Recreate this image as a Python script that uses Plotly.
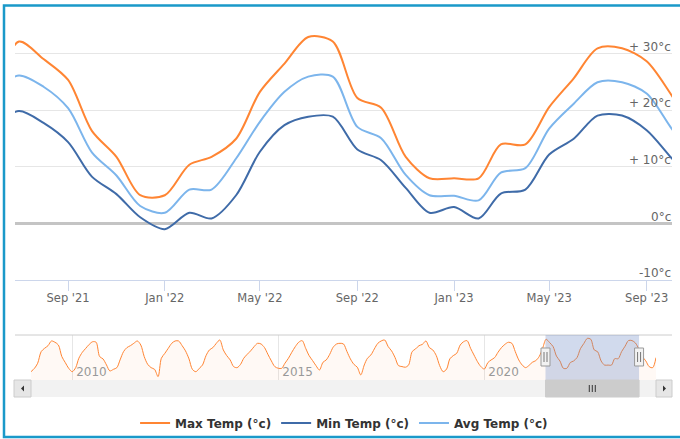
import pandas as pd
import plotly.graph_objects as go

W, H = 680, 439


def fx(px):
    return px / W


def fy(py):
    return 1 - py / H


# ---------------- data (monthly, 1st of month) ----------------
max_start = "2009-01-01"
max_temp = [
    # 2009
    1.8, 5.0, 9.7, 20.6, 23.7, 26.2, 30.6, 29.4, 26.8, 16.0, 10.3, 5.0,
    # 2010
    1.8, 5.6, 14.4, 20.0, 23.7, 27.4, 29.9, 29.4, 16.0, 13.8, 8.1, 2.5,
    # 2011
    4.0, 5.6, 12.8, 20.6, 24.4, 26.2, 28.4, 30.6, 26.8, 16.0, 8.7, 5.6,
    # 2012
    4.0, -2.8, 14.4, 19.0, 23.7, 28.4, 30.6, 30.6, 26.2, 21.3, 13.8, 4.0,
    # 2013
    1.8, 5.0, 8.1, 16.9, 22.2, 24.4, 28.4, 31.5, 22.2, 16.9, 12.8, 6.6,
    # 2014
    5.6, 8.7, 14.4, 18.1, 21.3, 25.3, 28.4, 27.8, 24.4, 18.1, 11.9, 6.6,
    # 2015
    5.0, 5.0, 9.7, 14.4, 20.0, 25.3, 29.4, 30.9, 23.7, 16.9, 12.2, 7.5,
    # 2016
    3.4, 10.6, 12.8, 18.1, 24.7, 27.8, 28.4, 27.8, 20.6, 13.8, 8.7, 6.0,
    # 2017
    -1.2, 8.1, 14.4, 17.5, 23.1, 28.4, 30.6, 31.5, 25.3, 21.3, 15.0, 7.5,
    # 2018
    6.6, 6.0, 8.1, 20.6, 23.1, 26.2, 27.4, 30.6, 24.4, 22.2, 16.9, 7.5,
    # 2019
    1.8, 4.3, 13.8, 16.9, 19.0, 26.8, 29.9, 30.9, 23.7, 17.5, 11.2, 6.6,
    # 2020
    4.3, 10.3, 12.8, 15.0, 20.0, 24.4, 27.4, 29.4, 28.4, 20.6, 12.8, 8.1,
    # 2021
    5.6, 7.8, 10.6, 12.2, 16.0, 24.0, 32.2, 29.1, 25.4, 16.4, 11.8, 5.0,
    # 2022
    5.0, 10.4, 11.8, 15.0, 23.3, 28.3, 33.0, 32.2, 22.2, 20.5, 11.8, 8.0,
    # 2023
    8.0, 8.0, 14.0, 14.0, 20.6, 25.7, 31.0, 31.0, 28.7, 23.0, 16.0, 12.0,
    # 2024
    6.5, 5.6, 15.0,
]

main_start = "2021-06-01"
min_temp = [
    17.5, 19.9, 17.8, 14.4, 8.3, 5.2, 1.1,
    -1.0, 1.9, 0.9, 5.0, 12.7, 17.4, 18.9, 18.9, 13.1, 11.2, 6.3, 1.9,
    2.9, 0.9, 5.3, 6.0, 12.2, 15.0, 19.1, 19.1, 16.5, 11.8, 7.0,
]
avg_temp = [
    23.5, 26.2, 24.2, 20.4, 12.6, 8.5, 3.1,
    1.9, 6.0, 6.0, 11.5, 18.0, 23.3, 26.0, 26.0, 17.1, 15.1, 8.6, 5.0,
    4.9, 4.1, 9.0, 9.8, 16.8, 21.2, 25.0, 25.0, 23.0, 17.1, 11.0,
]

y_ticks = [-10, 0, 10, 20, 30]
y_tick_labels = ["-10°c", "0°c", "+ 10°c", "+ 20°c", "+ 30°c"]

view_start, view_end = "2021-06-26", "2023-10-03"
nav_years = [2010, 2015, 2020]

series_names = ["Max Temp (°c)", "Min Temp (°c)", "Avg Temp (°c)"]
series_colors = ["#ff8533", "#3f6ba8", "#7cb5ec"]

months_all = pd.date_range(max_start, periods=len(max_temp), freq="MS")
months_main = pd.date_range(main_start, periods=len(min_temp), freq="MS")

FONT = "DejaVu Sans"
SMOOTH = 0.85

fig = go.Figure()

# ---------------- main chart ----------------
for name, xs, ys, col in [
    (series_names[0], months_all, max_temp, series_colors[0]),
    (series_names[1], months_main, min_temp, series_colors[1]),
    (series_names[2], months_main, avg_temp, series_colors[2]),
]:
    fig.add_trace(go.Scatter(
        x=xs, y=ys, name=name, mode="lines",
        line=dict(color=col, width=2, shape="spline", smoothing=SMOOTH),
        xaxis="x", yaxis="y", hoverinfo="skip",
    ))

# ---------------- navigator ----------------
nav_ymin, nav_ymax = -6.0, 36.2
fig.add_trace(go.Scatter(
    x=months_all, y=[nav_ymin] * len(months_all), mode="lines",
    line=dict(width=0, color="rgba(0,0,0,0)"), showlegend=False,
    xaxis="x2", yaxis="y2", hoverinfo="skip",
))
fig.add_trace(go.Scatter(
    x=months_all, y=max_temp, mode="lines", fill="tonexty",
    fillcolor="rgba(255,133,51,0.05)",
    line=dict(color=series_colors[0], width=1, shape="spline", smoothing=SMOOTH),
    showlegend=False, xaxis="x2", yaxis="y2", hoverinfo="skip",
))

# ---------------- annotations (y labels) ----------------
annotations = []
for v, t in zip(y_ticks, y_tick_labels):
    annotations.append(dict(
        x=fx(673), xref="paper", y=v, yref="y", text=t, showarrow=False,
        xanchor="right", yanchor="middle", yshift=7,
        font=dict(family=FONT, size=12, color="#666666"),
    ))

# ---------------- shapes ----------------
mid_view = pd.Timestamp(view_start) + (pd.Timestamp(view_end) - pd.Timestamp(view_start)) / 2
shapes = []
# navigator top outline
shapes.append(dict(type="line", xref="paper", yref="paper",
                   x0=fx(15), x1=fx(672), y0=fy(335), y1=fy(335),
                   line=dict(color="#cccccc", width=1)))
# navigator mask
shapes.append(dict(type="rect", xref="x2", yref="paper",
                   x0=view_start, x1=view_end, y0=fy(380), y1=fy(335),
                   fillcolor="rgba(102,133,194,0.3)", line=dict(width=0), layer="above"))
# scrollbar track
shapes.append(dict(type="rect", xref="paper", yref="paper",
                   x0=fx(31), x1=fx(656), y0=fy(397), y1=fy(380),
                   fillcolor="#f2f2f2", line=dict(width=0)))
# scrollbar buttons
for a, b in [(14, 31), (656, 672)]:
    shapes.append(dict(type="rect", xref="paper", yref="paper",
                       x0=fx(a), x1=fx(b), y0=fy(397), y1=fy(380),
                       fillcolor="#e6e6e6", line=dict(color="#cccccc", width=1)))
# arrows
shapes.append(dict(type="path", xref="paper", yref="paper",
                   path=f"M{fx(21)},{fy(388.5)} L{fx(24)},{fy(385.5)} L{fx(24)},{fy(391.5)} Z",
                   fillcolor="#333333", line=dict(width=0)))
shapes.append(dict(type="path", xref="paper", yref="paper",
                   path=f"M{fx(666)},{fy(388.5)} L{fx(663)},{fy(385.5)} L{fx(663)},{fy(391.5)} Z",
                   fillcolor="#333333", line=dict(width=0)))
# scrollbar thumb
shapes.append(dict(type="rect", xref="x2", yref="paper",
                   x0=view_start, x1=view_end, y0=fy(397), y1=fy(380),
                   fillcolor="#cccccc", line=dict(color="#cccccc", width=1)))
for off in (-3, 0, 3):
    shapes.append(dict(type="line", xref="x2", yref="paper", xsizemode="pixel",
                       xanchor=mid_view, x0=off, x1=off, y0=fy(392), y1=fy(385),
                       line=dict(color="#333333", width=1)))
# handles
for anchor in (view_start, view_end):
    shapes.append(dict(type="rect", xref="x2", yref="paper", xsizemode="pixel",
                       xanchor=anchor, x0=-4.5, x1=4.5, y0=fy(366), y1=fy(348),
                       fillcolor="#f2f2f2", line=dict(color="#999999", width=1), layer="above"))
    for off in (-1.5, 1.5):
        shapes.append(dict(type="line", xref="x2", yref="paper", xsizemode="pixel",
                           xanchor=anchor, x0=off, x1=off, y0=fy(362), y1=fy(352),
                           line=dict(color="#777777", width=1), layer="above"))
# chart border
shapes.append(dict(type="rect", xref="paper", yref="paper",
                   x0=fx(4), x1=fx(700), y0=fy(437), y1=fy(5.5),
                   line=dict(color="#1a99c9", width=2.5), fillcolor="rgba(0,0,0,0)",
                   layer="above"))

fig.update_layout(
    width=W, height=H, autosize=False,
    margin=dict(l=0, r=0, t=0, b=0),
    paper_bgcolor="white", plot_bgcolor="white",
    font=dict(family=FONT, color="#666666"),
    xaxis=dict(
        domain=[fx(15), fx(672)], anchor="y", type="date",
        range=[view_start, view_end],
        tick0="2021-09-01", dtick="M4", tickformat="%b '%y",
        ticks="outside", ticklen=10, tickcolor="#ccd6eb", tickwidth=1,
        showline=True, linecolor="#ccd6eb", linewidth=1,
        showgrid=False, zeroline=False, ticklabelstandoff=-3,
        tickfont=dict(family=FONT, size=11.5, color="#666666"),
    ),
    yaxis=dict(
        domain=[fy(280), fy(25)], anchor="x",
        range=[-10, 35.13], tickvals=y_ticks, showticklabels=False,
        showgrid=True, gridcolor="#e6e6e6", gridwidth=1,
        zeroline=True, zerolinecolor="#c4c4c4", zerolinewidth=2.5,
        ticks="",
    ),
    xaxis2=dict(
        domain=[fx(31), fx(656)], anchor="y2", type="date",
        range=[months_all[0], months_all[-1]],
        tickvals=[pd.Timestamp(f"{y}-01-01") for y in nav_years],
        ticktext=[str(y) for y in nav_years],
        ticklabelposition="inside right",
        ticklabelstandoff=-4, ticklabelshift=4,
        showgrid=True, gridcolor="#e6e6e6", gridwidth=1,
        ticks="", showline=False, zeroline=False,
        tickfont=dict(family=FONT, size=12, color="#999999"),
    ),
    yaxis2=dict(
        domain=[fy(380), fy(335)], anchor="x2",
        range=[nav_ymin, nav_ymax], visible=False,
    ),
    showlegend=True,
    legend=dict(
        orientation="h", x=0.506, xanchor="center", y=fy(423), yanchor="middle",
        font=dict(family=FONT, size=12, color="#333333", weight="bold"),
        bgcolor="rgba(0,0,0,0)", traceorder="normal",
    ),
    annotations=annotations,
    shapes=shapes,
)

fig.write_html(
    "out.html",
    config={"displayModeBar": False},
    post_script="document.body.style.margin='0px';",
)
